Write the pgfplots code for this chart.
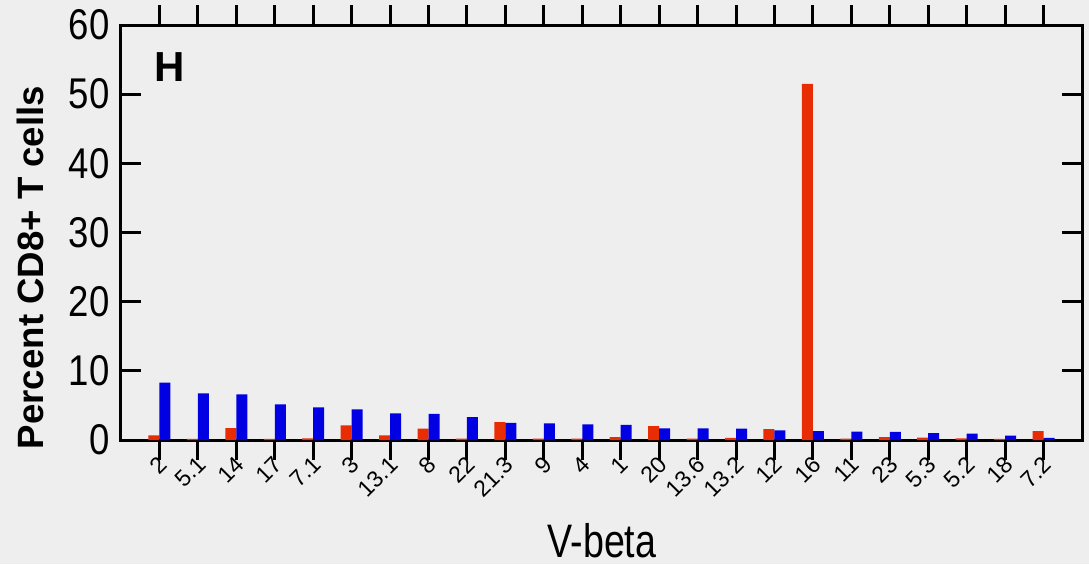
\documentclass[border=0pt]{standalone}
\usepackage{fontspec}
\setmainfont{Liberation Sans}
\newfontfamily\narrowfont[FakeStretch=0.85]{Liberation Sans}
\newfontfamily\narrowerfont[FakeStretch=0.8]{Liberation Sans}
\usepackage{pgfplots}
\usepackage{pgfplotstable}
\pgfplotsset{compat=1.18}
\definecolor{bggray}{RGB}{238,238,238}
\definecolor{barred}{RGB}{232,44,4}
\definecolor{barblue}{RGB}{0,0,226}
\pgfplotstableread{
idx red blue
0 0.68 8.3
1 0.15 6.75
2 1.73 6.6
3 0.18 5.15
4 0.25 4.7
5 2.1 4.43
6 0.68 3.85
7 1.64 3.76
8 0.2 3.3
9 2.6 2.46
10 0.2 2.4
11 0.2 2.26
12 0.43 2.2
13 2.02 1.69
14 0.2 1.69
15 0.29 1.64
16 1.59 1.4
17 51.5 1.3
18 0.2 1.2
19 0.43 1.16
20 0.34 1.01
21 0.25 0.92
22 0.15 0.63
23 1.3 0.29
}\datatable
\begin{document}
\begin{tikzpicture}
\path[use as bounding box, fill=bggray] (0,0) rectangle (544.5pt,282pt);
\begin{axis}[
  at={(60.5pt,62pt)}, anchor=south west,
  width=480.5pt, height=207.5pt, scale only axis,
  xmin=-1, xmax=24, ymin=0, ymax=60,
  ytick={0,10,20,30,40,50,60},
  xtick={0,...,23},
  xticklabels={2,5.1,14,17,7.1,3,13.1,8,22,21.3,9,4,1,20,13.6,13.2,12,16,11,23,5.3,5.2,18,7.2},
  tick align=inside,
  major tick length=10pt,
  tick style={line width=1.5pt, black},
  axis line style={line width=1.5pt},
  /pgf/number format/assume math mode=true,
  yticklabel style={font=\narrowfont\fontsize{21.5}{23}\selectfont, inner sep=0pt, xshift=-5.5pt},
  xticklabel style={font=\fontsize{11.5}{12}\selectfont, rotate=45, anchor=north east, inner sep=0pt, xshift=1.2pt, yshift=2.6pt},
  xlabel={V-beta},
  xlabel style={font=\narrowerfont\fontsize{23.5}{25}\selectfont, at={(axis description cs:0.5005,-0.2434)}, anchor=center},
  ylabel={\textbf{Percent CD8+ T cells}},
  ylabel style={font=\fontsize{18.3}{20}\selectfont, at={(axis description cs:-0.0947,0.4157)}, anchor=center, rotate=0},
  ybar, bar width=5.5pt,
  clip=false,
]
\addplot[fill=barred, draw=none, bar shift=-2.75pt] table[x=idx, y=red] {\datatable};
\addplot[fill=barblue, draw=none, bar shift=2.75pt] table[x=idx, y=blue] {\datatable};
\node[font=\bfseries\fontsize{21}{22}\selectfont, anchor=center] at (axis description cs:0.051,0.8976) {H};
\end{axis}
\end{tikzpicture}
\end{document}
